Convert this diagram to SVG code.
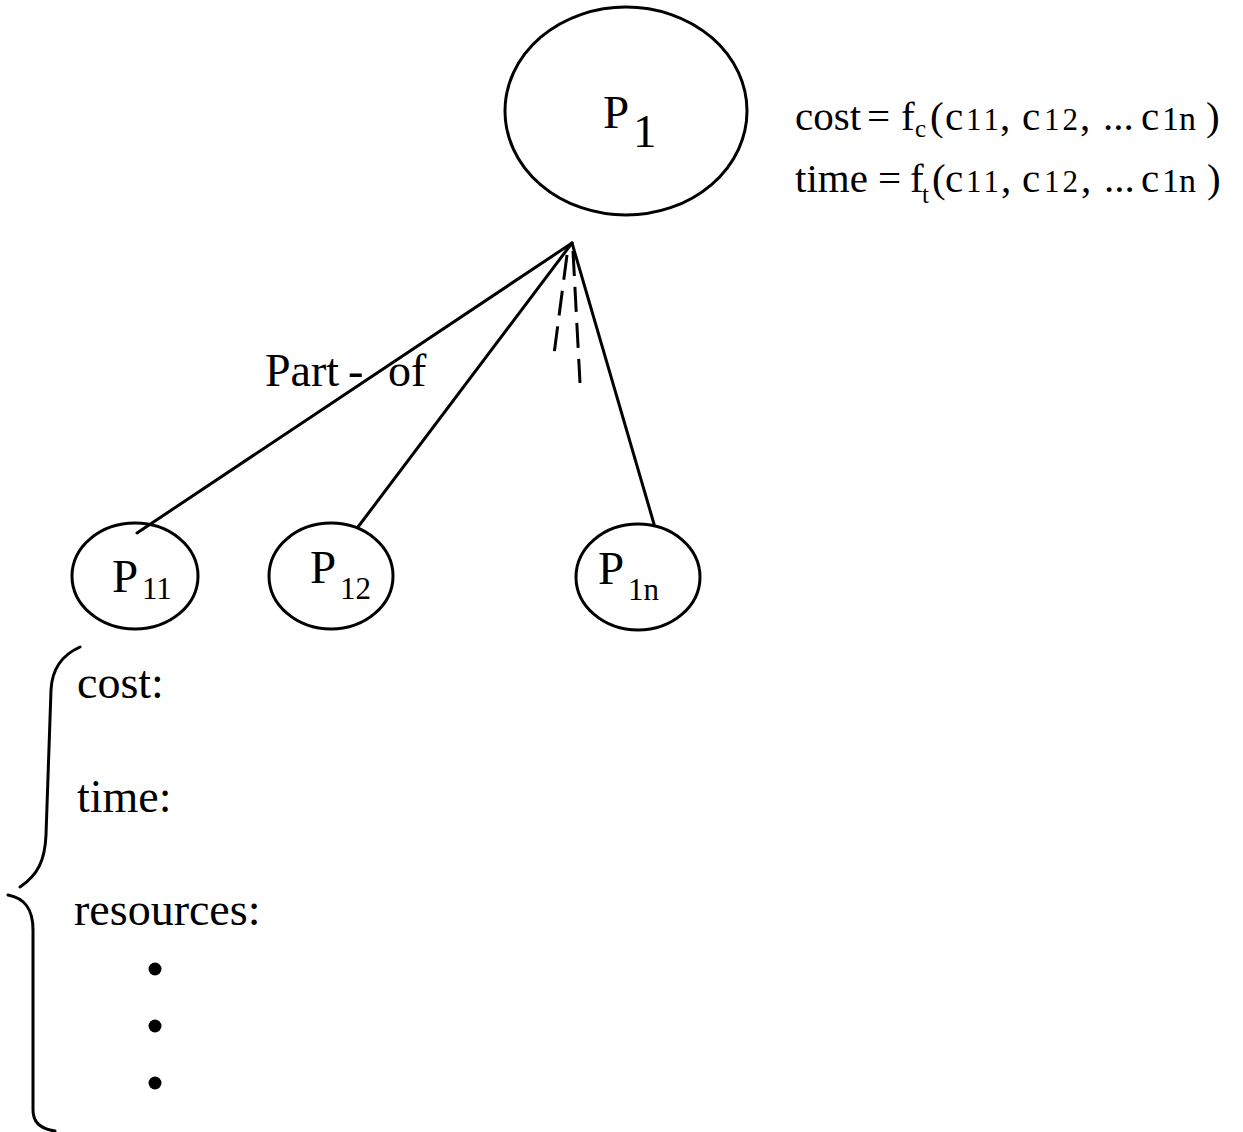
<svg xmlns="http://www.w3.org/2000/svg" width="1243" height="1132" viewBox="0 0 1243 1132">
<style>
.n{fill:none;stroke:#000;stroke-width:3}
.c{fill:none;stroke:#000;stroke-width:3;stroke-linecap:round}
.d{fill:none;stroke:#000;stroke-width:3;stroke-dasharray:25 11}
text{font-family:"Liberation Serif","Times New Roman",serif;fill:#000}
.big{font-size:47px}
.sub{font-size:31px}
.f{font-size:41px}
.fs{font-size:31px}
.fn{font-size:34px}
.fss{font-size:25px}
.l{font-size:46px}
</style>
<rect width="1243" height="1132" fill="#fff"/>
<g id="connectors">
<line class="c" x1="572" y1="243" x2="137" y2="533"/>
<line class="c" x1="572" y1="243" x2="358" y2="527"/>
<line class="c" x1="572" y1="243" x2="654" y2="524"/>
<line class="d" x1="567" y1="255" x2="553" y2="362"/>
<line class="d" x1="573" y1="251" x2="580" y2="383"/>
</g>
<g id="label-partof">
<text class="l" x="265" y="386">Part</text>
<text class="l" x="348" y="386">-</text>
<text class="l" x="388" y="386">of</text>
</g>
<g id="P1">
<ellipse class="n" cx="626" cy="111" rx="121" ry="104"/>
<text class="big" x="603" y="128">P</text>
<text class="big" x="633" y="147">1</text>
</g>
<g id="formula">
<text class="f" y="130"><tspan x="795">cost</tspan><tspan x="867">=</tspan><tspan x="901">f</tspan><tspan class="fss" x="915" y="137">c</tspan><tspan x="930" y="130">(</tspan><tspan x="945">c</tspan><tspan class="fs" x="966" textLength="33">11</tspan><tspan x="1000">,</tspan><tspan x="1022">c</tspan><tspan class="fs" x="1044" textLength="34">12</tspan><tspan x="1080">,</tspan><tspan x="1103">...</tspan><tspan x="1141">c</tspan><tspan class="fn" x="1162">1n</tspan><tspan x="1206">)</tspan></text>
<text class="f" y="192"><tspan x="795">time</tspan><tspan x="878">=</tspan><tspan x="910">f</tspan><tspan class="fss" x="922" y="203">t</tspan><tspan x="932" y="192">(</tspan><tspan x="945">c</tspan><tspan class="fs" x="966" textLength="33">11</tspan><tspan x="1001">,</tspan><tspan x="1022">c</tspan><tspan class="fs" x="1044" textLength="34">12</tspan><tspan x="1081">,</tspan><tspan x="1104">...</tspan><tspan x="1141">c</tspan><tspan class="fn" x="1162">1n</tspan><tspan x="1207">)</tspan></text>
</g>
<g id="P11">
<ellipse class="n" cx="135" cy="576" rx="63" ry="53"/>
<text class="big" x="112" y="592">P</text>
<text class="sub" x="142" y="599">11</text>
</g>
<g id="P12">
<ellipse class="n" cx="331" cy="576" rx="62" ry="53"/>
<text class="big" x="310" y="583">P</text>
<text class="sub" x="340" y="599">12</text>
</g>
<g id="P1n">
<ellipse class="n" cx="638" cy="577" rx="62" ry="53"/>
<text class="big" x="598" y="584">P</text>
<text class="sub" x="628" y="600">1n</text>
</g>
<g id="attributes">
<path class="c" d="M80,647 C62,655 52,668 51,690 L46,835 C45,860 38,875 20,887"/>
<path class="c" d="M8,895 C24,898 33,908 33,930 L33,1110 C33,1122 40,1129 55,1131"/>
<text class="l" x="77" y="698">cost:</text>
<text class="l" x="77" y="812">time:</text>
<text class="l" x="74" y="925">resources:</text>
<circle cx="155" cy="969" r="6.5"/>
<circle cx="155" cy="1026" r="6.5"/>
<circle cx="155" cy="1083" r="6.5"/>
</g>
</svg>
